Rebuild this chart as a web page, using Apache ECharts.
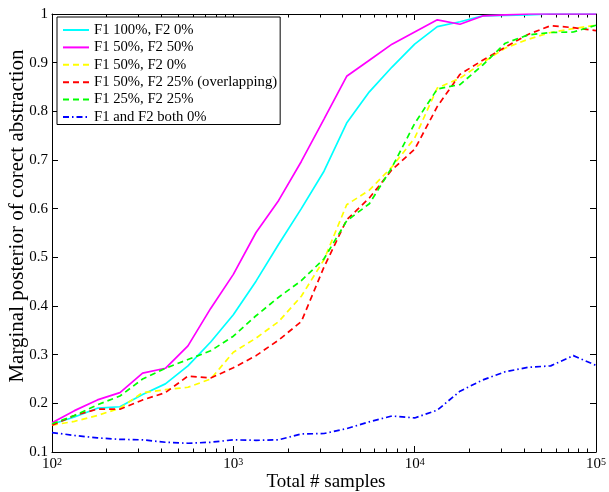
<!DOCTYPE html>
<html>
<head>
<meta charset="utf-8">
<script src="https://cdn.jsdelivr.net/npm/echarts@6/dist/echarts.min.js"></script>
<style>
html,body{margin:0;padding:0;background:#fff;}
#chart{width:609px;height:492px;}
</style>
</head>
<body>
<div id="chart"></div>
<script>
// ---- data ----
const xSamples = [100, 133, 178, 237, 316, 422, 562, 750, 1000, 1334, 1778, 2371, 3162, 4217, 5623, 7499, 10000, 13335, 17783, 23714, 31623, 42170, 56234, 74989, 100000];

const f1_100_f2_0 = [0.157, 0.172, 0.19, 0.193, 0.218, 0.24, 0.277, 0.326, 0.382, 0.451, 0.527, 0.60, 0.677, 0.776, 0.84, 0.891, 0.938, 0.974, 0.984, 0.996, 0.997, 0.998, 1.0, 1.0, 1.0];
const f1_50_f2_50 = [0.160, 0.185, 0.207, 0.222, 0.262, 0.272, 0.318, 0.395, 0.465, 0.551, 0.617, 0.697, 0.784, 0.872, 0.905, 0.938, 0.963, 0.988, 0.979, 0.996, 0.998, 1.0, 1.0, 1.0, 1.0];
const f1_50_f2_0 = [0.155, 0.163, 0.175, 0.19, 0.222, 0.228, 0.233, 0.25, 0.305, 0.334, 0.368, 0.42, 0.495, 0.608, 0.638, 0.686, 0.745, 0.848, 0.868, 0.90, 0.93, 0.948, 0.962, 0.97, 0.977];
const f1_50_f2_25 = [0.155, 0.175, 0.188, 0.188, 0.207, 0.222, 0.256, 0.252, 0.273, 0.298, 0.33, 0.368, 0.48, 0.577, 0.622, 0.68, 0.722, 0.81, 0.876, 0.905, 0.932, 0.958, 0.976, 0.972, 0.966];
const f1_25_f2_25 = [0.158, 0.175, 0.197, 0.215, 0.25, 0.272, 0.29, 0.308, 0.338, 0.38, 0.418, 0.452, 0.497, 0.575, 0.61, 0.685, 0.775, 0.846, 0.855, 0.895, 0.94, 0.957, 0.962, 0.963, 0.977];
const both_0 = [0.14, 0.134, 0.129, 0.126, 0.125, 0.12, 0.118, 0.12, 0.125, 0.124, 0.125, 0.137, 0.138, 0.148, 0.162, 0.174, 0.17, 0.186, 0.225, 0.248, 0.265, 0.274, 0.277, 0.298, 0.278];

const seriesNames = ['F1 100%, F2 0%', 'F1 50%, F2 50%', 'F1 50%, F2 0%', 'F1 50%, F2 25% (overlapping)', 'F1 25%, F2 25%', 'F1 and F2 both 0%'];
const xMin = 100, xMax = 100000;
const minorMultipliers = [2, 3, 4, 5, 6, 7, 8, 9];
const xTitle = 'Total # samples';
const yTitle = 'Marginal posterior of corect abstraction';

// ---- chart ----
const FONT = 'Liberation Serif';
const pairs = arr => arr.map((v, i) => [xSamples[i], v]);
const styles = [
  {color: '#00ffff', type: 'solid'},
  {color: '#ff00ff', type: 'solid'},
  {color: '#ffff00', type: [6, 4]},
  {color: '#ff0000', type: [6, 4]},
  {color: '#00ff00', type: [6, 4]},
  {color: '#0000ff', type: [6, 3, 1.5, 3]}
];
const values = [f1_100_f2_0, f1_50_f2_50, f1_50_f2_0, f1_50_f2_25, f1_25_f2_25, both_0];

const axLine = {show: true, onZero: false, lineStyle: {color: '#000', width: 1}};
const tickStyle = {color: '#000', width: 1};

const xAxes = [
  {
    type: 'log', logBase: 10, min: xMin, max: xMax, position: 'bottom',
    axisLine: axLine,
    axisTick: {show: true, inside: true, length: 6, lineStyle: tickStyle},
    splitLine: {show: false},
    axisLabel: {
      show: true, margin: 5, color: '#000', fontFamily: FONT, fontSize: 15,
      formatter: v => '10{s|' + Math.round(Math.log10(v)) + '}',
      rich: {s: {fontSize: 10, fontFamily: FONT, color: '#000', verticalAlign: 'top'}}
    }
  },
  {
    type: 'log', logBase: 10, min: xMin, max: xMax, position: 'top',
    axisLine: axLine,
    axisTick: {show: true, inside: true, length: 6, lineStyle: tickStyle},
    splitLine: {show: false},
    axisLabel: {show: false}
  }
];
// minor ticks (m x 10^k): a log axis whose range is divided by m puts its decade ticks at m x 10^k of the main axis
['bottom', 'top'].forEach(pos => {
  minorMultipliers.forEach(m => {
    xAxes.push({
      type: 'log', logBase: 10, min: xMin / m, max: xMax / m, position: pos,
      axisLine: {show: false},
      axisTick: {show: true, inside: true, length: 3.5, lineStyle: tickStyle},
      axisLabel: {show: false},
      splitLine: {show: false}
    });
  });
});

const chart = echarts.init(document.getElementById('chart'), null, {renderer: 'canvas'});
chart.setOption({
  animation: false,
  backgroundColor: '#fff',
  grid: {left: 52, right: 11, top: 14, bottom: 40, containLabel: false},
  xAxis: xAxes,
  yAxis: [
    {
      type: 'value', min: 0.1, max: 1, interval: 0.1, position: 'left',
      axisLine: axLine,
      axisTick: {show: true, inside: true, length: 6, lineStyle: tickStyle},
      axisLabel: {show: true, margin: 4, color: '#000', fontFamily: FONT, fontSize: 15},
      splitLine: {show: false}
    },
    {
      type: 'value', min: 0.1, max: 1, interval: 0.1, position: 'right',
      axisLine: axLine,
      axisTick: {show: true, inside: true, length: 6, lineStyle: tickStyle},
      axisLabel: {show: false},
      splitLine: {show: false}
    }
  ],
  legend: {
    orient: 'vertical', left: 57, top: 17,
    padding: [5.5, 3, 0, 5],
    itemWidth: 26, itemHeight: 15, itemGap: 2.4,
    borderColor: '#000', borderWidth: 1, backgroundColor: '#fff',
    selectedMode: false,
    itemStyle: {opacity: 0, borderWidth: 0},
    textStyle: {fontFamily: FONT, fontSize: 14.7, color: '#000', lineHeight: 15},
    data: seriesNames
  },
  graphic: [
    {type: 'text', x: 326, y: 482, style: {text: xTitle, font: '19px "Liberation Serif"', fill: '#000', align: 'center', verticalAlign: 'middle'}},
    {type: 'text', x: 17, y: 216, rotation: Math.PI / 2, style: {text: yTitle, font: '21px "Liberation Serif"', fill: '#000', align: 'center', verticalAlign: 'middle'}}
  ],
  series: values.map((vals, i) => ({
    name: seriesNames[i],
    type: 'line',
    xAxisIndex: 0, yAxisIndex: 0,
    data: pairs(vals),
    symbol: 'none', smooth: false,
    itemStyle: {color: styles[i].color},
    lineStyle: {color: styles[i].color, width: 1.7, type: styles[i].type},
    emphasis: {disabled: true}
  }))
});
</script>
</body>
</html>
